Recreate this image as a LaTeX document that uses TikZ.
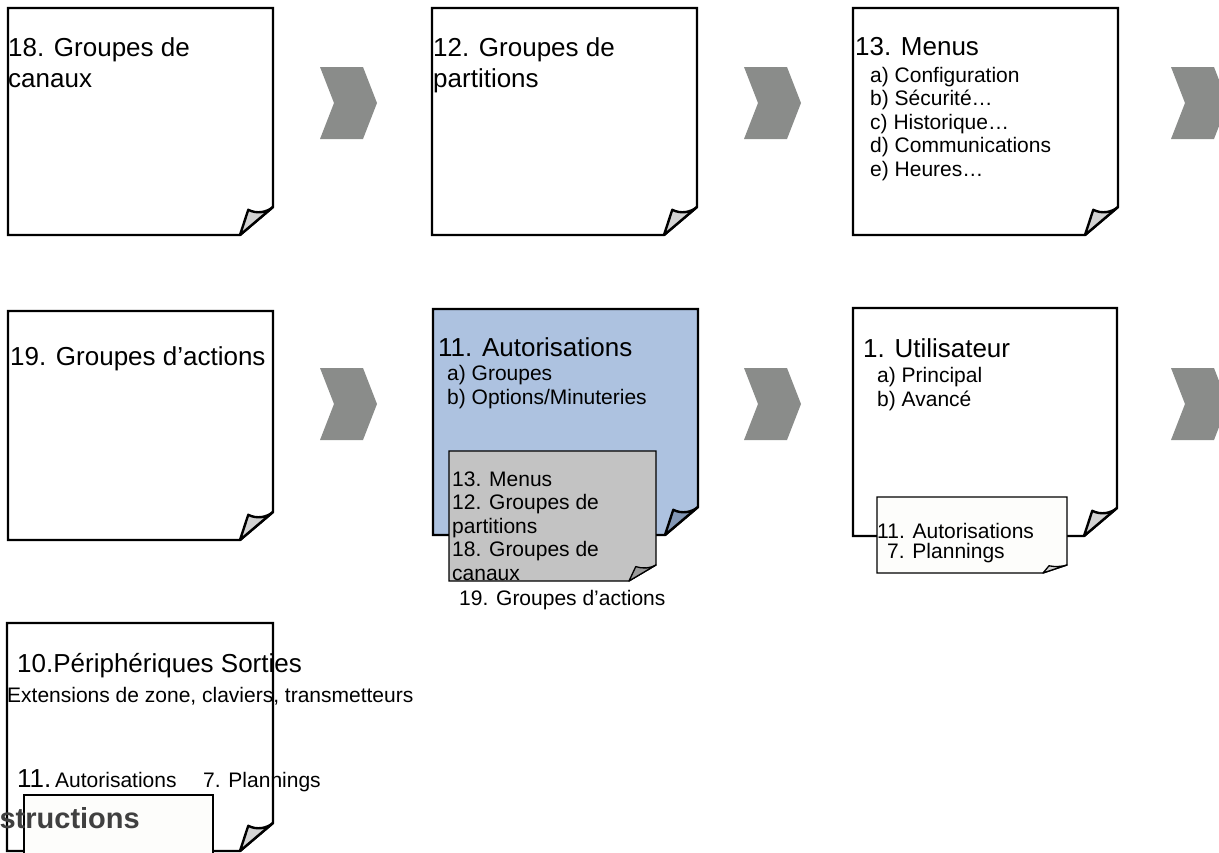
\documentclass[tikz,border=0pt]{standalone}
\usepackage{fontspec}
\setmainfont{Liberation Sans}

\definecolor{bleu}{HTML}{ADC2E0}
\definecolor{bleupli}{HTML}{8397B5}
\definecolor{gris}{HTML}{C3C3C3}
\definecolor{grispli}{HTML}{9A9A9A}
\definecolor{pli}{HTML}{D3D3D3}
\definecolor{fleche}{HTML}{8A8C8A}
\definecolor{papier}{HTML}{FDFDFB}

% sheet with a folded corner: left, top, right, bottom, fold dx, fold dy, sheet style, fold style
\newcommand{\feuille}[8]{%
  \filldraw[#7] (#1,#2) -- (#3,#2) -- (#3,{#4-#6}) -- ({#3-#5},#4) -- (#1,#4) -- cycle;
  \filldraw[#8] ({#3-#5},#4) -- ({#3-0.75*#5},{#4-0.9*#6})
    .. controls ({#3-0.5*#5},{#4-0.75*#6}) and ({#3-0.2*#5},{#4-0.8*#6}) .. (#3,{#4-#6}) -- cycle;
}

\begin{document}
\begin{tikzpicture}[
x=1pt, y=-1pt,
sheet/.style={draw=black,line width=2.4pt,fill=white},
bluesheet/.style={sheet,fill=bleu},
note/.style={draw=black,line width=1.3pt,fill=papier},
graynote/.style={note,fill=gris},
fold/.style={draw=black,line width=2.4pt,line join=round,fill=pli},
bluefold/.style={fold,fill=bleupli},
smallfold/.style={fold,line width=1.3pt},
grayfold/.style={smallfold,fill=grispli},
title/.style={anchor=base west,inner sep=0pt,align=left,font=\fontsize{26}{31}\selectfont},
item/.style={anchor=base west,inner sep=0pt,align=left,font=\fontsize{21}{23.5}\selectfont}
]
\useasboundingbox (0,0) rectangle (1219,852);
\clip (0,0) rectangle (1219,852);

% first row (multi-line texts are placed by their last line)
\feuille{8}{8}{273}{235}{33}{28}{sheet}{fold}
\node[title] (t18) at (8,87) {18. Groupes de\\canaux};

\feuille{432}{8}{697}{235}{33}{28}{sheet}{fold}
\node[title] (t12) at (433,87) {12. Groupes de\\partitions};

\feuille{853}{8}{1118}{235}{33}{28}{sheet}{fold}
\node[title] (t13) at (855,55) {13. Menus};
\node[item] (m13) at (870,176) {a) Configuration\\b) Sécurité…\\c) Historique…\\d) Communications\\e) Heures…};

% chevrons
\foreach \cx/\cy in {320/67,744/67,1171/67,320/368,744/368,1171/368}
  \fill[fleche] (\cx,\cy) -- ++(43,0) -- ++(14,36) -- ++(-14,36) -- ++(-43,0) -- ++(14,-36) -- cycle;

% second row
\feuille{8}{311}{273}{540}{33}{28}{sheet}{fold}
\node[title] (t19) at (10,365) {19. Groupes d’actions};

\feuille{433}{309}{698}{535}{33}{28}{bluesheet}{bluefold}
\node[title] (t11) at (438,356) {11. Autorisations};
\node[item] (a11) at (447,404) {a) Groupes\\b) Options/Minuteries};
\feuille{449}{451}{656}{581}{27}{16}{graynote}{grayfold}
\node[item] (n11) at (452,580) {13. Menus\\12. Groupes de\\partitions\\18. Groupes de\\canaux};
\node[item] (n19) at (459,605) {19. Groupes d’actions};

\feuille{853}{308}{1117}{536}{33}{28}{sheet}{fold}
\node[title] (t1) at (863,357) {1. Utilisateur};
\node[item] (a1) at (877,406) {a) Principal\\b) Avancé};
\feuille{877}{497}{1067}{573}{24}{8}{note}{smallfold}
\node[item] (n1) at (877,538) {11. Autorisations};
\node[item] (p1) at (887,558) {7. Plannings};

% third row
\feuille{7}{623}{273}{851}{33}{28}{sheet}{fold}
\node[title] (t10) at (17,672) {10.Périphériques Sorties};
\node[item] (e10) at (7,702) {Extensions de zone, claviers, transmetteurs};
\node[title] (r11) at (17,787) {11.};
\node[item] (r11b) at (55,787) {Autorisations};
\node[item] (r7) at (203,787) {7. Plannings};
\filldraw[note,line width=2pt] (24,795) rectangle (213,880);
\node[anchor=base east,inner sep=0pt,text=black!75,font=\fontsize{29}{34}\selectfont\bfseries] (instr) at (140,828) {Instructions};

\end{tikzpicture}
\end{document}
